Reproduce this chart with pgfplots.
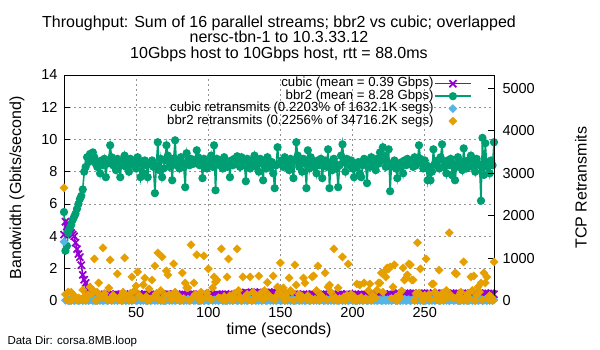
\documentclass[border=0pt]{standalone}
\usepackage{fontspec}
\setmainfont{Liberation Sans}
\usepackage{pgfplots}
\pgfplotsset{compat=1.18}
\usepackage{pgfplotstable}
\definecolor{cubic}{RGB}{148,0,211}
\definecolor{bbr}{RGB}{0,158,115}
\definecolor{cretx}{RGB}{86,180,233}
\definecolor{bretx}{RGB}{230,159,0}
\newcommand{\fs}[1]{\fontsize{#1}{#1}\selectfont}
\pgfplotsset{
  myleg/.style={legend image code/.code={\draw[mark repeat=2,mark phase=2,##1] plot coordinates {(0pt,0pt) (18pt,0pt) (36pt,0pt)};}},
  cubicstyle/.style={color=cubic, line width=1.6pt, mark=x, mark size=5pt, mark options={line width=1.7pt}},
  bbrstyle/.style={color=bbr, line width=1.6pt, mark=*, mark size=3.3pt},
  crstyle/.style={only marks, mark=square*, mark size=2.9pt, color=cretx, mark options={rotate=45}, myleg},
  brstyle/.style={only marks, mark=square*, mark size=2.9pt, color=bretx, mark options={rotate=45}, myleg},
}
\pgfplotstableread{
t c b cr br
0 4.1 5.5 1384 2658
1 4.9 3.1 10 150
2 4.6 3.4 30 20
3 4.8 4.2 0 205
4 4.4 4.5 20 0
5 4.2 4.7 5 200
6 4.1 5.0 40 40
7 4.0 5.2 0 120
8 3.6 5.4 15 80
9 3.2 5.7 25 10
10 2.9 6.0 0 64
11 2.7 6.3 10 50
12 2.2 6.5 30 30
13 1.6 6.9 0 252
14 1.3 8.0 20 90
15 1.1 8.3 5 0
16 0.85 8.9 40 130
17 0.7 8.6 0 134
18 0.6 9.1 15 323
19 0.5 8.8 25 150
20 0.45 9.2 0 252
21 0.33 8.9 10 983
22 0.41 8.5 30 0
23 0.35 8.3 0 200
24 0.39 8.6 20 417
25 0.32 7.9 5 120
26 0.40 8.7 40 80
27 0.36 8.4 0 1243
28 0.34 8.8 15 170
29 0.38 7.66 25 50
30 0.37 8.5 0 30
31 0.33 8.7 10 300
32 0.41 9.64 30 960
33 0.35 8.9 0 0
34 0.39 8.4 20 130
35 0.32 8.6 5 70
36 0.40 8.1 40 60
37 0.36 8.8 0 630
38 0.34 8.5 15 20
39 0.38 7.66 25 100
40 0.37 8.7 0 0
41 0.33 8.4 10 200
42 0.41 9.0 30 1007
43 0.35 8.3 0 120
44 0.39 8.6 20 80
45 0.32 8.0 5 10
46 0.40 8.8 40 170
47 0.36 8.5 0 559
48 0.34 8.4 15 30
49 0.38 8.7 25 240
50 0.37 8.2 0 347
51 0.33 8.9 10 677
52 0.41 8.5 30 130
53 0.35 7.66 0 70
54 0.39 8.6 20 60
55 0.32 7.9 5 370
56 0.40 8.7 40 535
57 0.36 8.4 0 100
58 0.34 7.66 15 0
59 0.38 8.5 25 276
60 0.37 8.5 0 40
61 0.33 8.7 10 488
62 0.41 8.3 30 80
63 0.35 6.67 0 818
64 0.39 8.4 20 170
65 0.32 9.83 5 1125
66 0.40 8.1 40 30
67 0.36 8.8 0 240
68 0.34 7.66 15 1030
69 0.38 8.2 25 0
70 0.37 8.7 0 130
71 0.33 9.64 10 700
72 0.41 9.0 30 606
73 0.35 8.3 0 150
74 0.39 8.6 20 20
75 0.32 7.47 5 100
76 0.40 8.8 40 865
77 0.36 9.95 0 200
78 0.34 8.4 15 40
79 0.38 8.7 25 120
80 0.37 8.2 0 80
81 0.33 8.9 10 10
82 0.41 8.5 30 653
83 0.35 8.3 0 50
84 0.39 7.04 20 417
85 0.32 9.15 5 300
86 0.40 8.7 40 300
87 0.36 8.4 0 0
88 0.34 8.8 15 1314
89 0.38 8.5 25 70
90 0.37 8.5 0 417
91 0.33 8.7 10 150
92 0.41 9.33 30 1078
93 0.35 8.9 0 100
94 0.39 8.4 20 0
95 0.32 8.6 5 200
96 0.40 7.6 40 40
97 0.36 8.8 0 1054
98 0.34 8.5 15 80
99 0.38 8.2 25 182
100 0.37 8.7 0 748
101 0.33 8.4 10 50
102 0.41 9.0 30 30
103 0.35 8.3 0 300
104 0.39 9.64 20 559
105 0.32 6.85 5 441
106 0.40 8.8 40 488
107 0.36 8.5 0 70
108 0.34 8.4 15 60
109 0.38 8.7 25 1219
110 0.37 8.2 0 20
111 0.33 8.9 10 100
112 0.41 8.5 30 0
113 0.35 8.3 0 559
114 0.39 8.6 20 983
115 0.32 7.66 5 120
116 0.40 8.7 40 80
117 0.36 8.4 0 10
118 0.34 8.8 15 170
119 0.38 8.5 25 50
120 0.37 8.96 0 1219
121 0.33 8.7 10 240
122 0.41 8.3 30 90
123 0.35 8.9 0 0
124 0.39 8.4 20 559
125 0.32 8.6 5 70
126 0.52 7.41 40 60
127 0.48 8.8 0 150
128 0.46 8.5 15 20
129 0.50 8.2 25 559
130 0.49 8.7 0 0
131 0.45 8.4 10 200
132 0.53 9.0 30 40
133 0.47 8.3 0 120
134 0.51 8.6 20 80
135 0.44 8.0 5 582
136 0.52 8.8 40 170
137 0.48 8.5 0 50
138 0.46 7.47 15 30
139 0.50 8.7 25 240
140 0.49 8.2 0 90
141 0.45 8.9 10 430
142 0.53 8.5 30 130
143 0.47 8.3 0 70
144 0.51 8.6 20 60
145 0.44 7.9 5 582
146 0.52 6.98 40 20
147 0.48 8.4 0 100
148 0.46 9.52 15 323
149 0.38 8.5 25 200
150 0.37 8.5 0 889
151 0.33 8.7 10 120
152 0.41 8.3 30 300
153 0.35 8.9 0 10
154 0.39 8.4 20 170
155 0.32 8.6 5 50
156 0.40 8.1 40 535
157 0.36 8.8 0 240
158 0.34 8.5 15 205
159 0.38 7.6 25 0
160 0.37 8.7 0 842
161 0.33 9.83 10 370
162 0.41 9.0 30 60
163 0.35 8.3 0 150
164 0.39 8.6 20 20
165 0.32 8.0 5 100
166 0.40 8.8 40 535
167 0.36 8.5 0 417
168 0.34 6.98 15 40
169 0.38 9.33 25 120
170 0.37 8.2 0 80
171 0.33 8.9 10 10
172 0.41 8.5 30 559
173 0.35 8.3 0 582
174 0.39 8.6 20 30
175 0.32 7.9 5 240
176 0.40 8.7 40 818
177 0.36 8.4 0 0
178 0.34 8.8 15 130
179 0.38 7.6 25 70
180 0.37 8.5 0 60
181 0.33 8.7 10 653
182 0.41 8.3 30 20
183 0.35 9.39 0 323
184 0.39 6.98 20 370
185 0.32 8.6 5 200
186 0.40 8.1 40 40
187 0.36 8.8 0 1219
188 0.34 8.5 15 80
189 0.38 8.2 25 10
190 0.37 7.04 0 300
191 0.33 8.4 10 50
192 0.41 9.0 30 30
193 0.35 9.7 0 1030
194 0.39 8.6 20 90
195 0.32 8.0 5 0
196 0.40 8.8 40 130
197 0.36 8.5 0 865
198 0.34 8.4 15 60
199 0.38 8.7 25 150
200 0.37 8.2 0 20
201 0.33 7.66 10 100
202 0.41 8.5 30 0
203 0.35 8.3 0 394
204 0.39 8.6 20 40
205 0.32 7.9 5 370
206 0.40 7.66 40 80
207 0.36 8.4 0 10
208 0.34 8.8 15 417
209 0.38 8.5 25 50
210 0.37 7.29 0 30
211 0.33 8.7 10 240
212 0.41 8.3 30 394
213 0.35 8.9 0 0
214 0.39 8.4 20 130
215 0.32 8.6 5 70
216 0.40 8.1 40 60
217 0.36 8.8 0 252
218 0.34 8.5 15 417
219 0.38 9.2 25 417
220 0.37 8.7 0 653
221 0.33 9.52 10 200
222 0.41 9.0 30 677
223 0.35 8.3 0 559
224 0.39 8.6 20 771
225 0.32 9.39 5 748
226 0.40 6.79 40 795
227 0.36 8.5 0 50
228 0.34 8.4 15 323
229 0.38 8.7 25 842
230 0.43 8.2 0 90
231 0.39 7.6 10 0
232 0.47 8.5 30 130
233 0.41 8.3 0 70
234 0.45 8.6 20 229
235 0.38 7.9 5 771
236 0.46 8.7 40 488
237 0.42 8.4 0 535
238 0.40 8.8 15 606
239 0.44 8.5 25 865
240 0.43 8.5 0 842
241 0.39 8.7 10 488
242 0.47 8.3 30 488
243 0.41 8.9 0 10
244 0.45 8.4 20 170
245 0.38 8.6 5 1361
246 0.46 9.64 40 182
247 0.42 8.8 0 748
248 0.40 8.5 15 90
249 0.44 8.2 25 0
250 0.43 8.7 0 130
251 0.39 8.4 10 983
252 0.47 7.47 30 60
253 0.41 8.3 0 150
254 0.45 7.47 20 20
255 0.38 8.0 5 394
256 0.46 9.39 40 394
257 0.42 8.5 0 200
258 0.40 8.4 15 40
259 0.44 8.7 25 120
260 0.43 8.2 0 720
261 0.39 8.9 10 10
262 0.47 9.7 30 170
263 0.41 8.3 0 182
264 0.45 8.6 20 30
265 0.38 7.9 5 240
266 0.46 8.7 40 90
267 0.42 8.4 0 1597
268 0.40 8.8 15 130
269 0.44 7.78 25 70
270 0.43 8.5 0 60
271 0.39 7.47 10 653
272 0.47 8.3 30 630
273 0.41 8.9 0 100
274 0.45 8.4 20 0
275 0.38 8.6 5 200
276 0.46 8.1 40 40
277 0.42 9.45 0 913
278 0.40 8.5 15 80
279 0.44 8.2 25 10
280 0.43 8.7 0 170
281 0.39 8.4 10 50
282 0.47 9.0 30 559
283 0.41 8.3 0 240
284 0.45 8.6 20 582
285 0.38 8.0 5 0
286 0.46 8.8 40 130
287 0.42 8.5 0 323
288 0.40 8.4 15 205
289 0.44 6.2 25 417
290 0.43 10.1 0 20
291 0.39 7.8 10 653
292 0.47 9.77 30 417
293 0.41 8.3 0 559
294 0.45 8.6 20 40
295 0.38 7.9 5 120
296 0.46 8.7 40 87
297 0.42 8.4 0 10
298 0.40 9.83 15 913
}\data
\begin{document}
\begin{tikzpicture}[x=1pt,y=1pt]
\path[use as bounding box] (-64,-49.3) rectangle (536,300.7);
\begin{axis}[
  at={(0,0)}, anchor=south west,
  scale only axis, width=430pt, height=225.7pt,
  xmin=0, xmax=298, ymin=0, ymax=14,
  xtick={50,100,150,200,250}, ytick={0,2,...,14},
  xtick pos=bottom, ytick pos=left, tick align=inside,
  major tick length=6pt,
  tick style={black, line width=0.8pt},
  axis line style={black, line width=0.9pt},
  grid=major, grid style={gray!85, line width=0.7pt, dash pattern=on 2pt off 3pt},
  /pgf/number format/assume math mode=true,
  ticklabel style={font=\fs{14.5}},
  yticklabel style={xshift=-3pt},
  xticklabel style={yshift=-3pt},
  xlabel={time (seconds)},
  ylabel={Bandwidth (Gbits/second)},
  xlabel style={font=\fs{16}, at={(axis description cs:0.5,-0.1298)}, anchor=center},
  ylabel style={font=\fs{16}, at={(axis description cs:-0.1093,0.5)}, anchor=center, rotate=0},
  title={Throughput: Sum of 16 parallel streams; bbr2 vs cubic; overlapped\\nersc-tbn-1 to 10.3.33.12\\10Gbps host to 10Gbps host, rtt = 88.0ms},
  title style={font=\fontsize{16}{15.5}\selectfont, align=center, at={(axis description cs:0.5,1.135)}, anchor=center},
  clip=false,
]
\addplot[cubicstyle] table[x=t, y=c] {\data};
\addplot[bbrstyle] table[x=t, y=b] {\data};
\end{axis}
\begin{axis}[
  at={(0,0)}, anchor=south west,
  scale only axis, width=430pt, height=225.7pt,
  xmin=0, xmax=298, ymin=0, ymax=5307,
  axis x line=none, axis y line*=right,
  ytick={0,1000,...,5000}, tick align=inside,
  major tick length=6pt,
  tick style={black, line width=0.8pt},
  axis line style={black, line width=0.9pt},
  /pgf/number format/assume math mode=true,
  /pgf/number format/1000 sep={},
  ticklabel style={font=\fs{14.5}},
  yticklabel style={xshift=5pt},
  ylabel={TCP Retransmits},
  ylabel style={font=\fs{16}, at={(axis description cs:1.2023,0.5)}, anchor=center, rotate=0},
  clip=false,
  myleg,
  legend cell align=right,
  legend plot pos=right,
  legend style={draw=none, fill=none, at={(axis description cs:0.9486,0.99)}, anchor=north east,
    inner sep=0pt, row sep=0pt, font=\fs{13.2},
    nodes={inner sep=0.5pt, text height=9pt, text depth=2.5pt},
    /tikz/every even column/.append style={column sep=5pt}},
]
\addlegendimage{cubicstyle}
\addlegendentry{cubic (mean = 0.39 Gbps)}
\addlegendimage{bbrstyle}
\addlegendentry{bbr2 (mean = 8.28 Gbps)}
\addplot[crstyle] table[x=t, y=cr] {\data};
\addlegendentry{cubic retransmits (0.2203\% of 1632.1K segs)}
\addplot[brstyle] table[x=t, y=br] {\data};
\addlegendentry{bbr2 retransmits (0.2256\% of 34716.2K segs)}
\end{axis}
\node[anchor=west, font=\fs{11.5}] at (-60,-41.3) {Data Dir: corsa.8MB.loop};
\end{tikzpicture}
\end{document}
